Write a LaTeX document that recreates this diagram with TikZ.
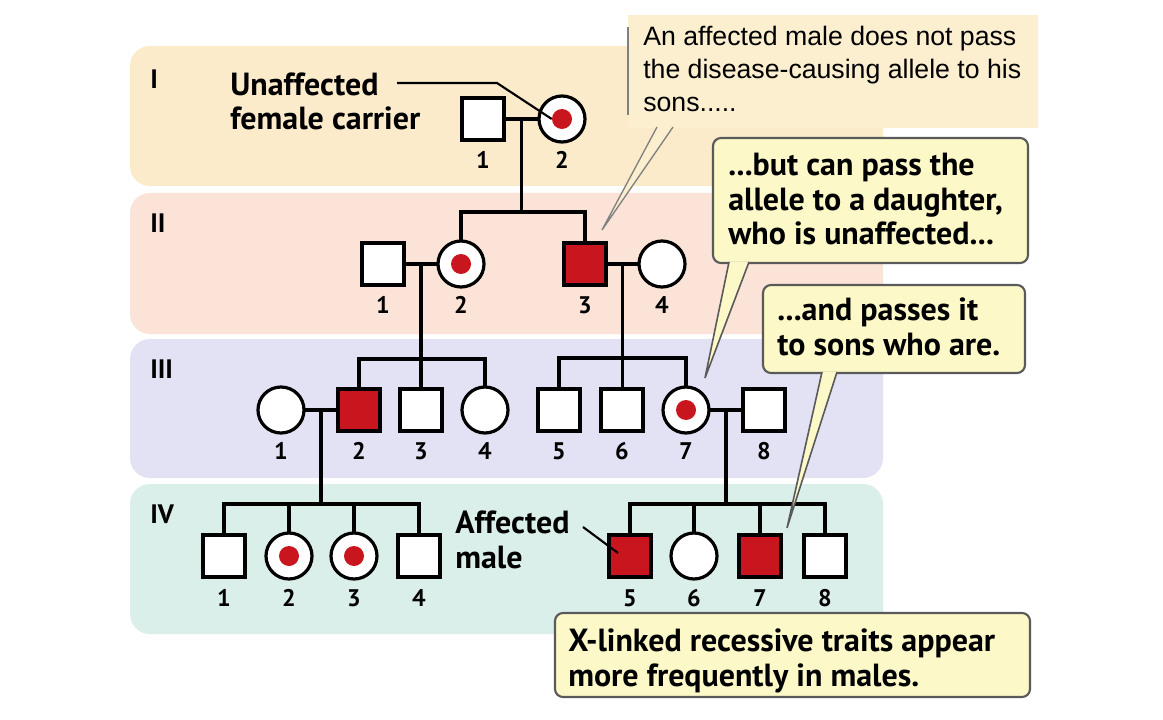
\documentclass[tikz,border=0pt]{standalone}
\usepackage{fontspec}
\setmainfont{PT Sans}
\newfontfamily\arialf{Liberation Sans}
\usetikzlibrary{calc}
\definecolor{bandI}{HTML}{FBEBCA}
\definecolor{bandII}{HTML}{FBE3D7}
\definecolor{bandIII}{HTML}{E2E2F4}
\definecolor{bandIV}{HTML}{DAEEEA}
\definecolor{topfill}{HTML}{FCEFD0}
\definecolor{callfill}{HTML}{FCF8C8}
\definecolor{callborder}{HTML}{5A5A5A}
\definecolor{affred}{HTML}{C9161E}
\begin{document}
\begin{tikzpicture}[x=0.75pt,y=-0.75pt,
  sym/.style={draw=black,line width=2.4pt,inner sep=0pt,outer sep=0pt},
  male/.style={sym,rectangle,minimum size=31.5pt,fill=white},
  female/.style={sym,circle,minimum size=34.5pt,fill=white},
  affected/.style={fill=affred},
  carrierdot/.style={circle,fill=affred,draw=none,minimum size=15pt,inner sep=0pt},
  ln/.style={line width=2.4pt},
  num/.style={font=\fontsize{18}{20}\selectfont\bfseries,inner sep=0pt},
  gen/.style={font=\fontsize{20}{22}\selectfont\bfseries,inner sep=0pt,anchor=west},
  band/.style={rounded corners=15pt},
  boldtxt/.style={font=\fontsize{24}{26}\selectfont\bfseries,inner sep=0pt,align=left,anchor=base west},
  callbox/.style={fill=callfill,draw=callborder,line width=1.6pt,rounded corners=6pt},
  wedgeline/.style={draw=callborder,line width=1.2pt},
  thinptr/.style={line width=1.6pt}
]
\useasboundingbox (0,0) rectangle (1163,720);
\fill[white] (0,0) rectangle (1163,720);

% generation bands
\fill[band,bandI] (130,46) rectangle (883,186);
\fill[band,bandII] (130,193) rectangle (883,334);
\fill[band,bandIII] (130,339) rectangle (883,478);
\fill[band,bandIV] (130,484) rectangle (883,634);

\node[gen] (gI) at (150,79) {I};
\node[gen] (gII) at (150,223) {II};
\node[gen] (gIII) at (150,369) {III};
\node[gen] (gIV) at (150,514) {IV};

% top explanatory box
\fill[topfill] (628,15) rectangle (1038,128);
\draw[gray,line width=1.5pt] (628,27) -- (628,115);
\node[font=\arialf\fontsize{20}{24.75}\selectfont,anchor=base west,align=left,inner sep=0pt] (toptext) at (643,112)
  {An affected male does not pass\\the disease-causing allele to his\\sons.....};

% symbols
\node[male] (I1) at (483,119) {};
\node[female] (I2) at (562,119) {};
\node[carrierdot] (I2d) at (I2.center) {};

\node[male] (II1) at (383,264) {};
\node[female] (II2) at (461,264) {};
\node[carrierdot] (II2d) at (II2.center) {};
\node[male,affected] (II3) at (585,264) {};
\node[female] (II4) at (662,264) {};

\node[female] (III1) at (281,410) {};
\node[male,affected] (III2) at (359,410) {};
\node[male] (III3) at (421,410) {};
\node[female] (III4) at (485,410) {};
\node[male] (III5) at (559,410) {};
\node[male] (III6) at (622,410) {};
\node[female] (III7) at (686,410) {};
\node[carrierdot] (III7d) at (III7.center) {};
\node[male] (III8) at (764,410) {};

\node[male] (IV1) at (224,556) {};
\node[female] (IV2) at (289,556) {};
\node[carrierdot] (IV2d) at (IV2.center) {};
\node[female] (IV3) at (354,556) {};
\node[carrierdot] (IV3d) at (IV3.center) {};
\node[male] (IV4) at (419,556) {};
\node[male,affected] (IV5) at (630,556) {};
\node[female] (IV6) at (694,556) {};
\node[male,affected] (IV7) at (760,556) {};
\node[male] (IV8) at (825,556) {};

% numbers
\node[num] (nI1) at (483,160) {1};
\node[num] (nI2) at (562,160) {2};
\node[num] (nII1) at (383,305) {1};
\node[num] (nII2) at (461,305) {2};
\node[num] (nII3) at (585,305) {3};
\node[num] (nII4) at (662,305) {4};
\node[num] (nIII1) at (281,451) {1};
\node[num] (nIII2) at (359,451) {2};
\node[num] (nIII3) at (421,451) {3};
\node[num] (nIII4) at (485,451) {4};
\node[num] (nIII5) at (559,451) {5};
\node[num] (nIII6) at (622,451) {6};
\node[num] (nIII7) at (686,451) {7};
\node[num] (nIII8) at (764,451) {8};
\node[num] (nIV1) at (224,598) {1};
\node[num] (nIV2) at (289,598) {2};
\node[num] (nIV3) at (354,598) {3};
\node[num] (nIV4) at (419,598) {4};
\node[num] (nIV5) at (630,598) {5};
\node[num] (nIV6) at (694,598) {6};
\node[num] (nIV7) at (760,598) {7};
\node[num] (nIV8) at (825,598) {8};

% marriage and sibship lines
\coordinate (mI) at ($(I1.east)!.5!(I2.west)$);
\coordinate (sII) at ($(mI)+(0,93)$);
\draw[ln] (I1.east) -- (I2.west);
\draw[ln] (mI) -- (sII);
\draw[ln] (II2.north) |- (sII) -| (II3.north);

\coordinate (mII) at ($(II1.east)!.5!(II2.west)$);
\coordinate (sIII) at ($(mII)+(0,95)$);
\draw[ln] (II1.east) -- (II2.west);
\draw[ln] (mII) -- (mII |- III3.north);
\draw[ln] (III2.north) |- (sIII) -| (III4.north);

\coordinate (mIIr) at ($(II3.east)!.5!(II4.west)$);
\coordinate (sIIIr) at ($(mIIr)+(0,94)$);
\draw[ln] (II3.east) -- (II4.west);
\draw[ln] (mIIr) -- (mIIr |- III6.north);
\draw[ln] (III5.north) |- (sIIIr) -| (III7.north);

\coordinate (mIII) at ($(III1.east)!.5!(III2.west)$);
\coordinate (sIV) at ($(mIII)+(0,94)$);
\draw[ln] (III1.east) -- (III2.west);
\draw[ln] (mIII) -- (sIV);
\draw[ln] (IV1.north) |- (sIV) -| (IV4.north);
\draw[ln] (IV2.north) -- (IV2.north |- sIV);
\draw[ln] (IV3.north) -- (IV3.north |- sIV);

\coordinate (mIIIr) at ($(III7.east)!.5!(III8.west)$);
\coordinate (sIVr) at ($(mIIIr)+(0,94)$);
\draw[ln] (III7.east) -- (III8.west);
\draw[ln] (mIIIr) -- (sIVr);
\draw[ln] (IV5.north) |- (sIVr) -| (IV8.north);
\draw[ln] (IV6.north) -- (IV6.north |- sIVr);
\draw[ln] (IV7.north) -- (IV7.north |- sIVr);

% labels with pointers
\node[boldtxt] (unaff) at (230,130) {Unaffected\\female carrier};
\coordinate (ucA) at (397,83);
\coordinate (ucB) at (497,83);
\draw[thinptr] (ucA) -- (ucB) -- (I2d.west);

\node[boldtxt] (affm) at (455,568) {Affected\\male};
\coordinate (amA) at (583,527);
\coordinate (amB) at (618,553);
\draw[thinptr] (amA) -- (amB);

% top box pointer
\coordinate (tA1) at (657,127);
\coordinate (tA2) at (673,127);
\coordinate (tipA) at (602,230);
\fill[topfill] (tA1) -- (tipA) -- (tA2) -- cycle;
\draw[gray,line width=1pt] (tA1) -- (tipA) -- (tA2);

% callout 2
\draw[callbox] (713,138) rectangle (1028,263);
\coordinate (tB1) at (729,262);
\coordinate (tB2) at (749,262);
\coordinate (tipB) at (705,378);
\fill[callfill] (tB1) -- (tipB) -- (tB2) -- cycle;
\draw[wedgeline] (tB1) -- (tipB) -- (tB2);
\node[boldtxt] (call2) at (728,245) {...but can pass the\\allele to a daughter,\\who is unaffected...};

% callout 3
\draw[callbox] (763,285) rectangle (1025,373);
\coordinate (tC1) at (822,372);
\coordinate (tC2) at (837,372);
\coordinate (tipC) at (787,528);
\fill[callfill] (tC1) -- (tipC) -- (tC2) -- cycle;
\draw[wedgeline] (tC1) -- (tipC) -- (tC2);
\node[boldtxt] (call3) at (777,355) {...and passes it\\to sons who are.};

% bottom box
\draw[callbox] (555,613) rectangle (1030,697);
\node[boldtxt] (call4) at (568,686) {X-linked recessive traits appear\\more frequently in males.};
\end{tikzpicture}
\end{document}
